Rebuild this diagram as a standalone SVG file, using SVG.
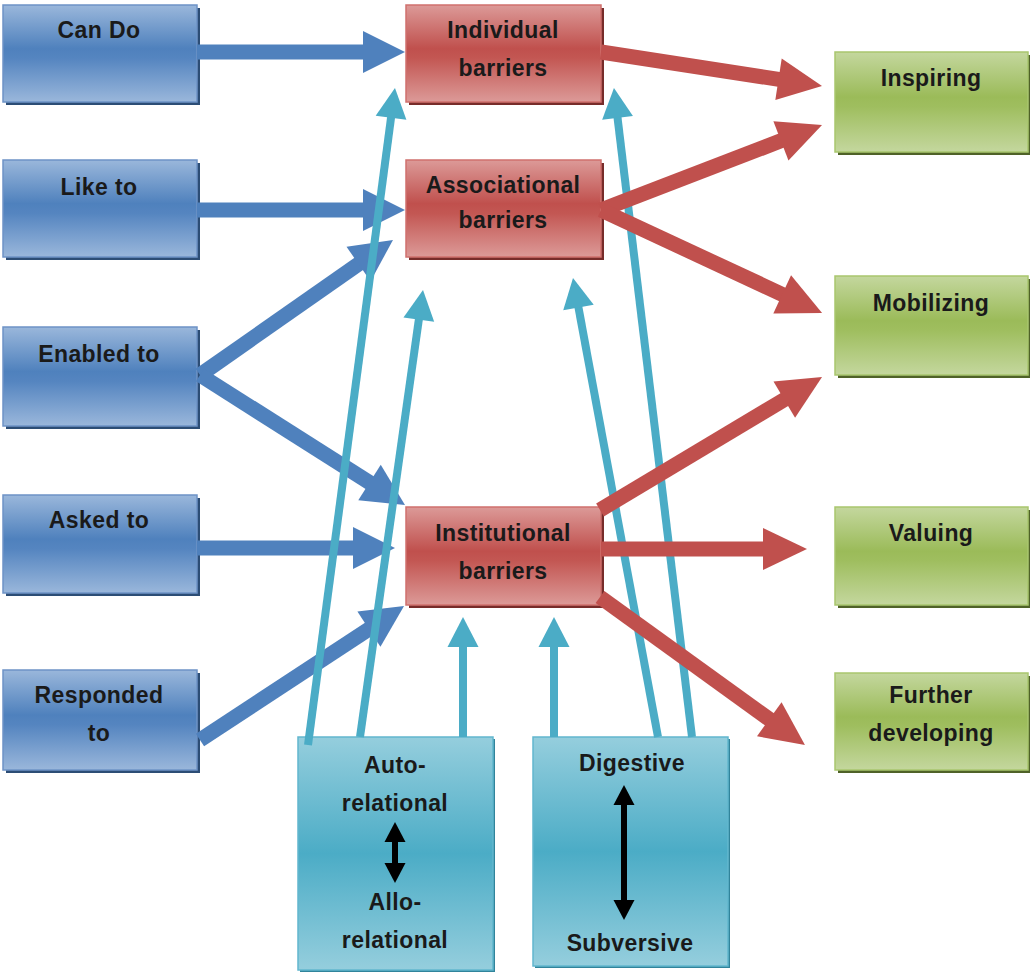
<svg xmlns="http://www.w3.org/2000/svg" width="1030" height="972" viewBox="0 0 1030 972">
<defs>
<style>
text{font-family:"Liberation Sans",Arial,sans-serif;font-size:23px;letter-spacing:0.4px;font-weight:bold;fill:#1a1a1a;text-anchor:middle}
.sb{fill:#2c4d75}.sr{fill:#772c2a}.sg{fill:#4f6228}.sc{fill:#31849b}
.nb{fill:url(#gb);stroke:#6e93c6;stroke-width:1.5}
.nr{fill:url(#gr);stroke:#d0706d;stroke-width:1.5}
.ng{fill:url(#gg);stroke:#a9c66e;stroke-width:1.5}
.nc{fill:url(#gc);stroke:#62b7ce;stroke-width:1.5}
.ab{stroke:#4f81bd;stroke-width:15;fill:none;marker-end:url(#hb)}
.ar{stroke:#c0504d;stroke-width:15;fill:none;marker-end:url(#hr)}
.ac{stroke:#4bacc6;stroke-width:8;fill:none;marker-end:url(#hc)}
.ak{stroke:#000;stroke-width:6;fill:none;marker-start:url(#hk);marker-end:url(#hk)}
</style>
<linearGradient id="gb" x1="0" y1="0" x2="0" y2="1"><stop offset="0" stop-color="#9ab7db"/><stop offset="0.45" stop-color="#4f81bd"/><stop offset="0.55" stop-color="#5585c0"/><stop offset="1" stop-color="#9ab7db"/></linearGradient>
<linearGradient id="gr" x1="0" y1="0" x2="0" y2="1"><stop offset="0" stop-color="#dc9a98"/><stop offset="0.45" stop-color="#c0504d"/><stop offset="0.55" stop-color="#c35753"/><stop offset="1" stop-color="#dc9a98"/></linearGradient>
<linearGradient id="gg" x1="0" y1="0" x2="0" y2="1"><stop offset="0" stop-color="#c4d79e"/><stop offset="0.45" stop-color="#9bbb59"/><stop offset="0.55" stop-color="#9fbe5f"/><stop offset="1" stop-color="#c4d79e"/></linearGradient>
<linearGradient id="gc" x1="0" y1="0" x2="0" y2="1"><stop offset="0" stop-color="#95cedd"/><stop offset="0.5" stop-color="#4bacc6"/><stop offset="1" stop-color="#95cedd"/></linearGradient>
<marker id="hb" markerUnits="userSpaceOnUse" markerWidth="44" markerHeight="44" refX="2" refY="21" orient="auto" overflow="visible"><path d="M0,0 L42,21 L0,42 z" fill="#4f81bd"/></marker>
<marker id="hr" markerUnits="userSpaceOnUse" markerWidth="46" markerHeight="46" refX="2" refY="21" orient="auto" overflow="visible"><path d="M0,0 L44,21 L0,42 z" fill="#c0504d"/></marker>
<marker id="hc" markerUnits="userSpaceOnUse" markerWidth="32" markerHeight="32" refX="2" refY="15.5" orient="auto" overflow="visible"><path d="M0,0 L30,15.5 L0,31 z" fill="#4bacc6"/></marker>
<marker id="hk" markerUnits="userSpaceOnUse" markerWidth="24" markerHeight="24" refX="2" refY="10.5" orient="auto-start-reverse" overflow="visible"><path d="M0,0 L20,10.5 L0,21 z" fill="#000"/></marker>
</defs>

<g id="n-cando"><rect class="sb" x="6" y="8" width="194" height="97"/><rect class="nb" x="3" y="5" width="194" height="97"/><text x="99" y="38">Can Do</text></g>
<g id="n-liketo"><rect class="sb" x="6" y="163" width="194" height="97"/><rect class="nb" x="3" y="160" width="194" height="97"/><text x="99" y="195">Like to</text></g>
<g id="n-enabledto"><rect class="sb" x="6" y="330" width="194" height="99"/><rect class="nb" x="3" y="327" width="194" height="99"/><text x="99" y="362">Enabled to</text></g>
<g id="n-askedto"><rect class="sb" x="6" y="498" width="194" height="98"/><rect class="nb" x="3" y="495" width="194" height="98"/><text x="99" y="528">Asked to</text></g>
<g id="n-respondedto"><rect class="sb" x="6" y="673" width="194" height="100"/><rect class="nb" x="3" y="670" width="194" height="100"/><text x="99" y="703">Responded</text><text x="99" y="741">to</text></g>

<g id="n-individual"><rect class="sr" x="409" y="8" width="195" height="97"/><rect class="nr" x="406" y="5" width="195" height="97"/><text x="503" y="38">Individual</text><text x="503" y="76">barriers</text></g>
<g id="n-associational"><rect class="sr" x="409" y="163" width="195" height="97"/><rect class="nr" x="406" y="160" width="195" height="97"/><text x="503" y="193">Associational</text><text x="503" y="228">barriers</text></g>
<g id="n-institutional"><rect class="sr" x="409" y="510" width="195" height="98"/><rect class="nr" x="406" y="507" width="195" height="98"/><text x="503" y="541">Institutional</text><text x="503" y="579">barriers</text></g>

<g id="n-inspiring"><rect class="sg" x="838" y="55" width="193" height="100"/><rect class="ng" x="835" y="52" width="193" height="100"/><text x="931" y="86">Inspiring</text></g>
<g id="n-mobilizing"><rect class="sg" x="838" y="279" width="193" height="99"/><rect class="ng" x="835" y="276" width="193" height="99"/><text x="931" y="311">Mobilizing</text></g>
<g id="n-valuing"><rect class="sg" x="838" y="510" width="193" height="98"/><rect class="ng" x="835" y="507" width="193" height="98"/><text x="931" y="541">Valuing</text></g>
<g id="n-further"><rect class="sg" x="838" y="676" width="193" height="97"/><rect class="ng" x="835" y="673" width="193" height="97"/><text x="931" y="703">Further</text><text x="931" y="741">developing</text></g>

<g id="n-auto"><rect class="sc" x="300" y="739" width="195" height="233"/><rect class="nc" x="298" y="737" width="195" height="233"/><text x="395" y="773">Auto-</text><text x="395" y="811">relational</text><text x="395" y="910">Allo-</text><text x="395" y="948">relational</text><line class="ak" x1="395" y1="840" x2="395" y2="865"/></g>
<g id="n-digestive"><rect class="sc" x="535" y="739" width="195" height="229"/><rect class="nc" x="533" y="737" width="195" height="229"/><text x="632" y="771">Digestive</text><text x="630" y="951">Subversive</text><line class="ak" x1="624" y1="803" x2="624" y2="902"/></g>

<g id="connectors">
<line class="ab" x1="197" y1="52" x2="365" y2="52"/>
<line class="ab" x1="197" y1="210" x2="365" y2="210"/>
<line class="ab" x1="200" y1="375" x2="360.2" y2="262.9"/>
<line class="ab" x1="200" y1="375" x2="371.2" y2="483.6"/>
<line class="ab" x1="197" y1="548" x2="355" y2="548"/>
<line class="ab" x1="200" y1="740" x2="370.6" y2="628"/>
<line class="ac" x1="308" y1="745" x2="391.3" y2="115.8"/>
<line class="ac" x1="360" y1="737" x2="419.1" y2="317.7"/>
<line class="ac" x1="463" y1="737" x2="463" y2="645"/>
<line class="ac" x1="554" y1="737" x2="554" y2="645"/>
<line class="ac" x1="658" y1="737" x2="578.1" y2="305.5"/>
<line class="ac" x1="692" y1="737" x2="617.3" y2="115.8"/>
<line class="ar" x1="601" y1="52" x2="780.5" y2="79.6"/>
<line class="ar" x1="601" y1="210" x2="782.8" y2="140.1"/>
<line class="ar" x1="601" y1="210" x2="784" y2="295.2"/>
<line class="ar" x1="600" y1="510" x2="786" y2="398.6"/>
<line class="ar" x1="601" y1="549" x2="765" y2="549"/>
<line class="ar" x1="600" y1="597" x2="770.9" y2="720.4"/>
</g>
</svg>
